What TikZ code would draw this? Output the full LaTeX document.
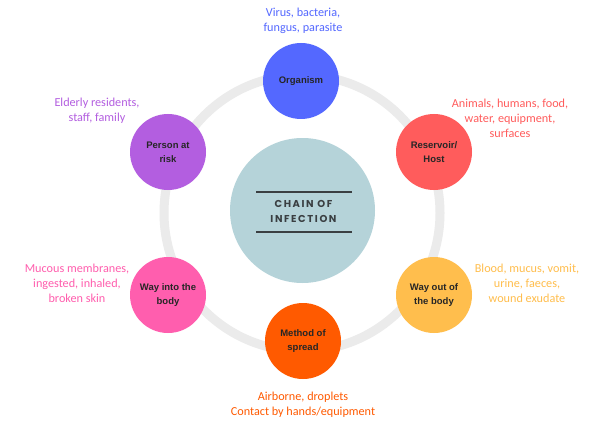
\documentclass[tikz,border=0pt]{standalone}
\usepackage{fontspec}
\setmainfont{Carlito}
\newfontfamily\nodefont{Liberation Sans}
\newfontfamily\titlefont[LetterSpace=16]{Poppins}
\definecolor{ringgrey}{HTML}{EBEBEB}
\definecolor{centre}{HTML}{B5D3D9}
\definecolor{orgc}{HTML}{5468FF}
\definecolor{resc}{HTML}{FF5C5C}
\definecolor{outc}{HTML}{FFBE4D}
\definecolor{sprc}{HTML}{FF5A00}
\definecolor{intoc}{HTML}{FF5EAE}
\definecolor{perc}{HTML}{B35EE0}
\definecolor{titlec}{HTML}{3A3F42}
\begin{document}
\begin{tikzpicture}[x=1pt,y=-1pt,
  stage/.style={circle,minimum size=76pt,inner sep=0pt,align=center,
    font=\nodefont\bfseries\fontsize{9.5}{14}\selectfont,text=black!85},
  note/.style={align=center,font=\fontsize{12.2}{15}\selectfont}]
\useasboundingbox[fill=white] (0,0) rectangle (610,433);
\node[circle,draw=ringgrey,line width=9pt,minimum size=276pt,inner sep=0pt] (ring) at (302,213) {};
\node[circle,fill=centre,minimum size=145pt,inner sep=0pt] (hub) at (302.5,210.5) {};
\coordinate (tl) at (256,192); \coordinate (tr) at (352,192);
\coordinate (bl) at (256,232); \coordinate (br) at (352,232);
\draw[titlec,line width=1.6pt] (tl) -- (tr);
\draw[titlec,line width=1.6pt] (bl) -- (br);
\node[align=center,text=titlec,font=\titlefont\bfseries\fontsize{10}{15}\selectfont] (title) at (303.5,211.5) {CHAIN OF\\INFECTION};
\node[stage,fill=orgc] (org) at (301,81) {Organism};
\node[stage,fill=resc] (res) at (434,152) {Reservoir/\\Host};
\node[stage,fill=outc] (out) at (434,295) {Way out of\\the body};
\node[stage,fill=sprc] (spr) at (303,341) {Method of\\spread};
\node[stage,fill=intoc] (into) at (168,295) {Way into the\\body};
\node[stage,fill=perc] (per) at (168,152) {Person at\\risk};
\node[note,text=orgc] (orgt) at (303,21) {Virus, bacteria,\\fungus, parasite};
\node[note,text=resc] (rest) at (510,118) {Animals, humans, food,\\water, equipment,\\surfaces};
\node[note,text=outc] (outt) at (527,283) {Blood, mucus, vomit,\\urine, faeces,\\wound exudate};
\node[note,text=sprc] (sprt) at (303,404.5) {Airborne, droplets\\Contact by hands/equipment};
\node[note,text=intoc] (intot) at (77,283) {Mucous membranes,\\ingested, inhaled,\\broken skin};
\node[note,text=perc] (pert) at (97,110.5) {Elderly residents,\\staff, family};
\end{tikzpicture}
\end{document}
